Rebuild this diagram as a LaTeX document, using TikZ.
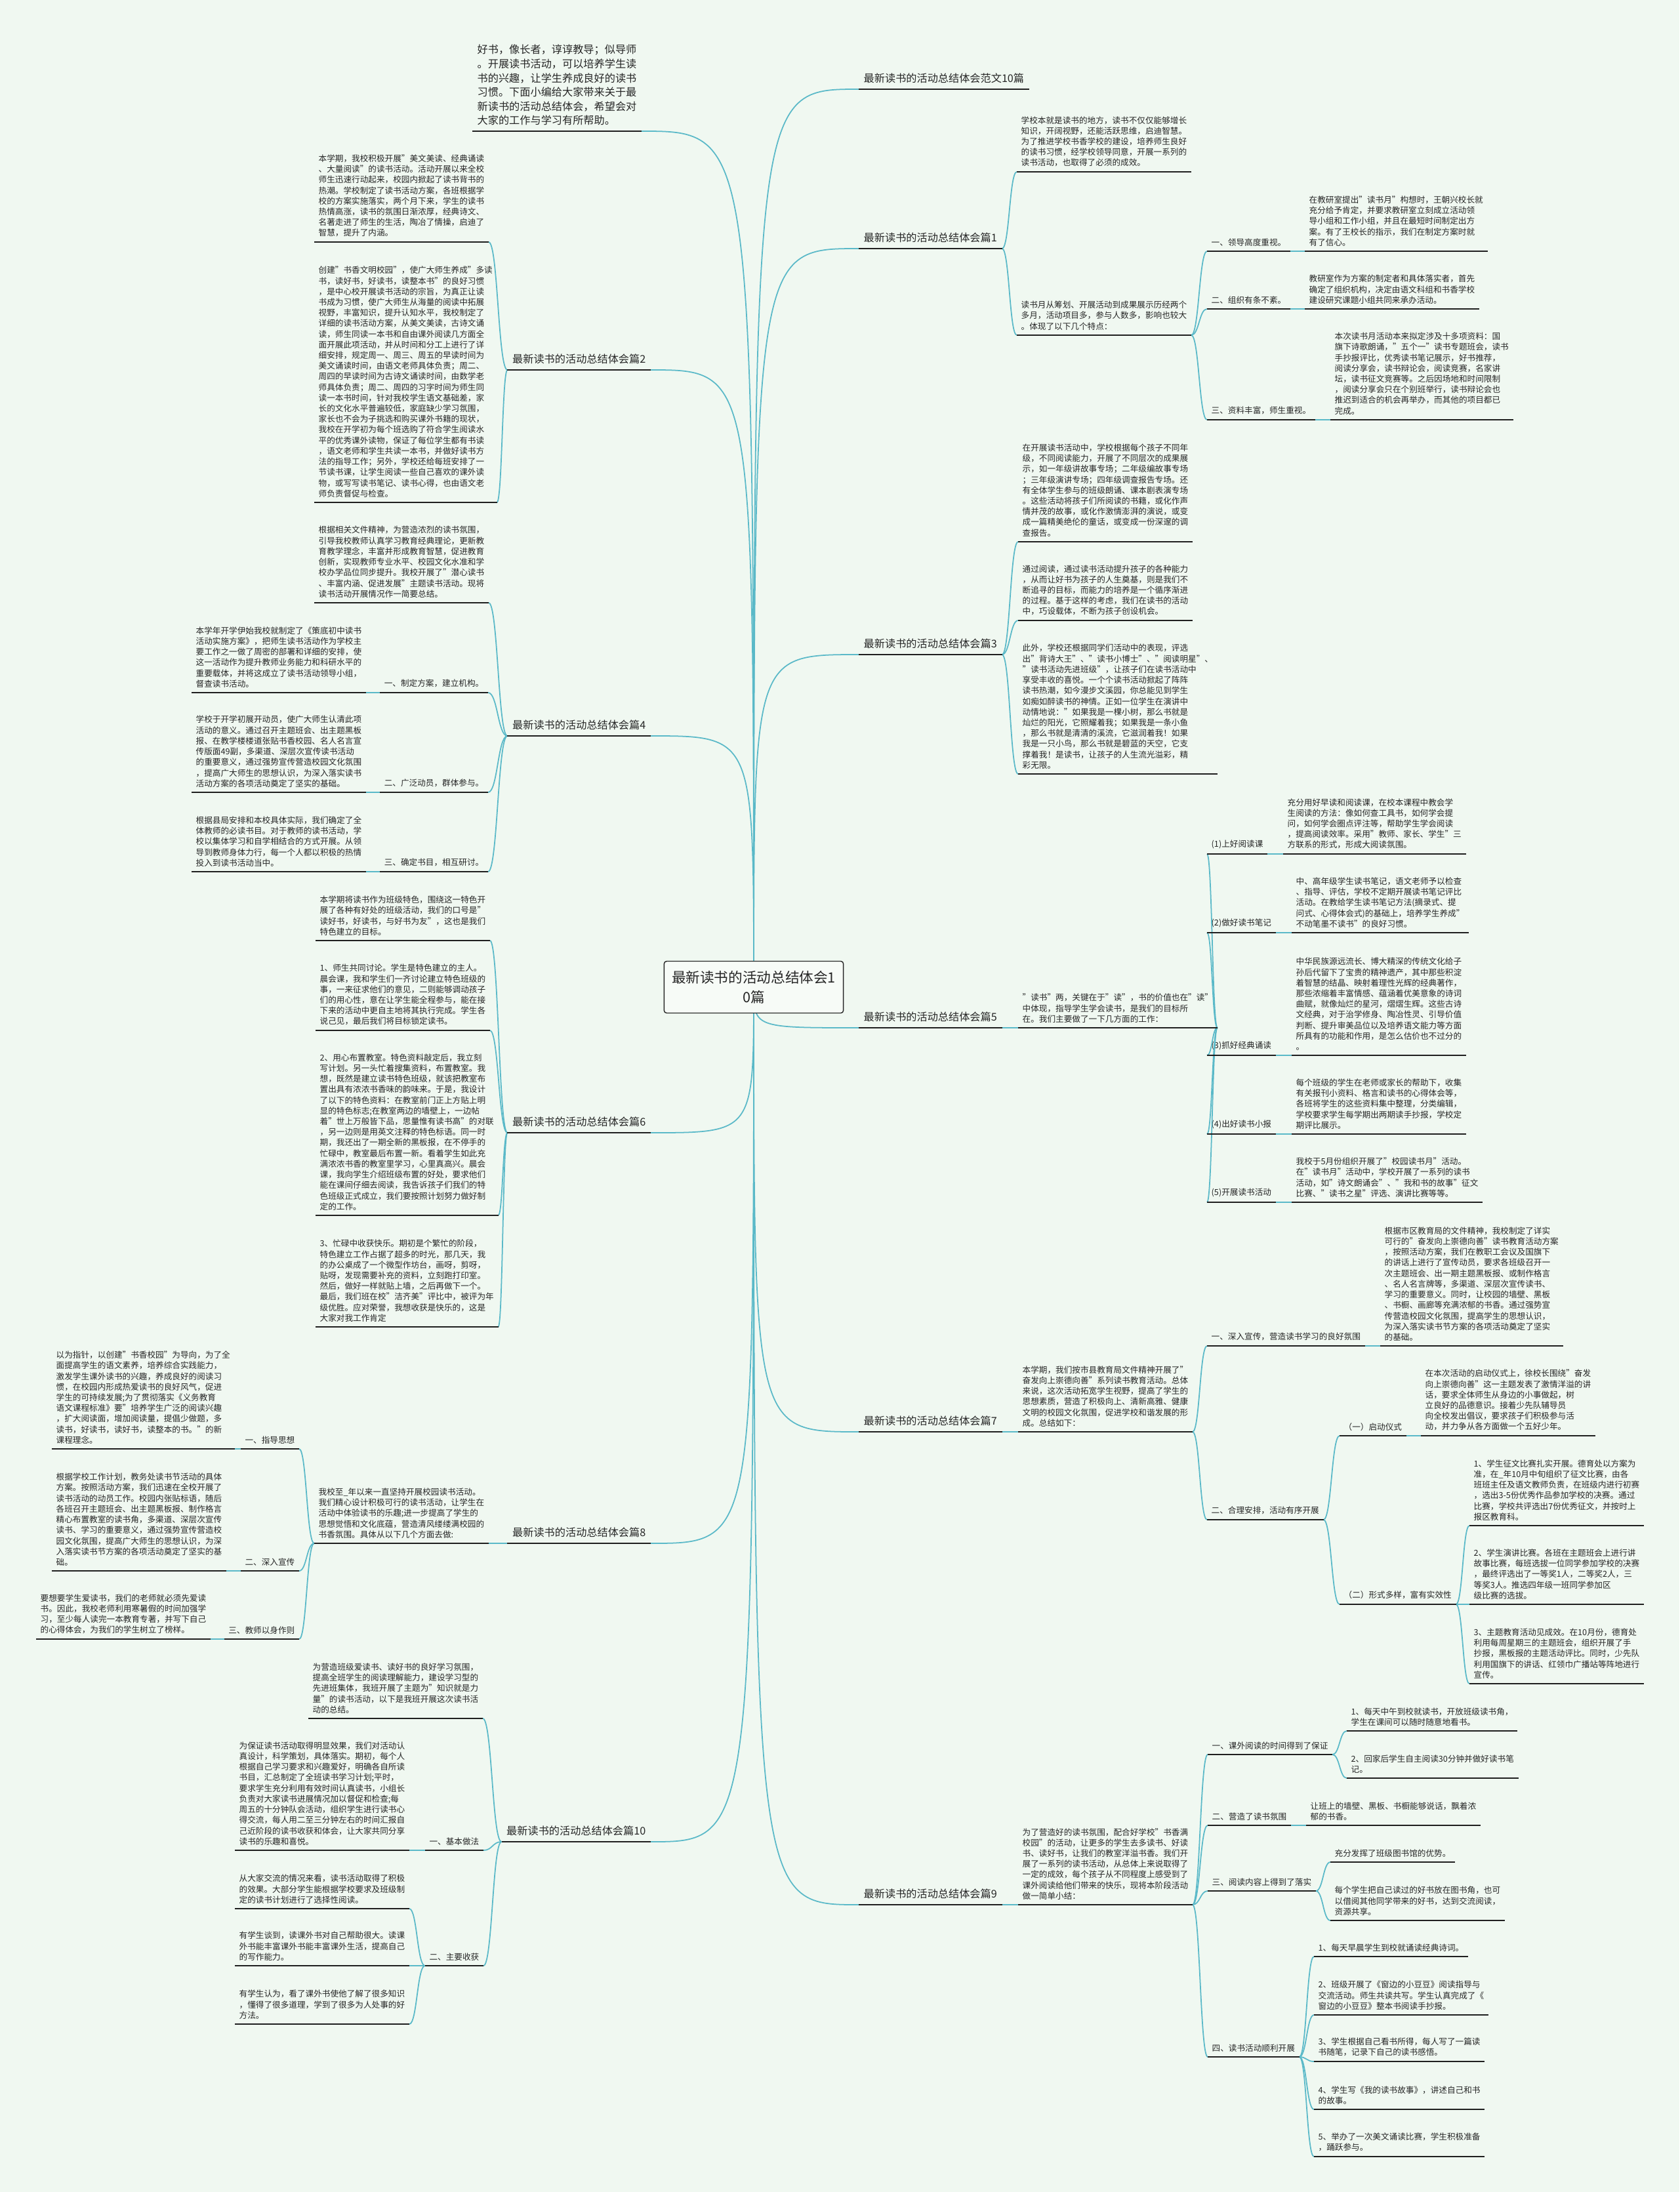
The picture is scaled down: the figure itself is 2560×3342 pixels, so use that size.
\documentclass[tikz,border=0pt]{standalone}
\usepackage{fontspec}
\setmainfont{Noto Sans CJK SC}
\usetikzlibrary{calc}

\definecolor{bgmint}{RGB}{240,248,241}
\definecolor{linkc}{RGB}{90,185,200}
\definecolor{ink}{RGB}{38,38,38}

\newcommand{\fsmall}{\fontsize{3.59pt}{4.61pt}\selectfont}
\newcommand{\flabel}{\fontsize{4.6pt}{6.15pt}\selectfont}
\newcommand{\fcenter}{\fontsize{6.15pt}{8.6pt}\selectfont}

\tikzset{
  txt/.style={font=\fsmall, align=left, inner xsep=0.06cm, inner ysep=0.07cm, text=ink},
  lbl/.style={font=\flabel, align=left, inner xsep=0.07cm, inner ysep=0.08cm, text=ink},
  hub/.style={font=\fcenter, align=center, draw=black!85, line width=0.4pt, rounded corners=0.04cm,
    fill=white!45!bgmint, minimum width=2.73cm, minimum height=0.79cm, text=ink},
  uline/.style={draw=black!88, line width=0.55pt},
  link/.style={draw=linkc, line width=0.5pt}
}

% curved connector between two points, bending at the middle
\newcommand{\lnk}[2]{\draw[link] let \p1=(#1), \p2=(#2) in
  (\p1) .. controls ({0.5*\x1+0.5*\x2},\y1) and ({0.5*\x1+0.5*\x2},\y2) .. (\p2);}
% connector from the centre topic
\newcommand{\hublnk}[1]{\draw[link] (hubc) .. controls (hubc |- #1) .. (#1);}

\begin{document}
\begin{tikzpicture}[x=0.01cm, y=-0.01cm]
\fill[bgmint] (0,0) rectangle (2560,3342);
\useasboundingbox (0,0) rectangle (2560,3342);

\coordinate (hubc) at (1149,1505);

% ---------- left side ----------
\node[lbl, anchor=south west, font=\fontsize{4.6pt}{6.15pt}\selectfont] (intro) at (720,200)
  {好书，像长者，谆谆教导；似导师\\。开展读书活动，可以培养学生读\\书的兴趣，让学生养成良好的读书\\习惯。下面小编给大家带来关于最\\新读书的活动总结体会，希望会对\\大家的工作与学习有所帮助。};

\node[lbl, anchor=south east] (b2) at (992,564) {最新读书的活动总结体会篇2};
\node[txt, anchor=south west] (b2p1) at (479,369)
  {本学期，我校积极开展"美文美读、经典诵读\\、大量阅读"的读书活动。活动开展以来全校\\师生迅速行动起来，校园内掀起了读书背书的\\热潮。学校制定了读书活动方案，各班根据学\\校的方案实施落实，两个月下来，学生的读书\\热情高涨，读书的氛围日渐浓厚，经典诗文、\\名著走进了师生的生活，陶冶了情操，启迪了\\智慧，提升了内涵。};
\node[txt, anchor=south west] (b2p2) at (479,766)
  {创建"书香文明校园"，使广大师生养成"多读\\书，读好书，好读书，读整本书"的良好习惯\\，是中心校开展读书活动的宗旨，为真正让读\\书成为习惯，使广大师生从海量的阅读中拓展\\视野，丰富知识，提升认知水平，我校制定了\\详细的读书活动方案，从美文美读，古诗文诵\\读，师生同读一本书和自由课外阅读几方面全\\面开展此项活动，并从时间和分工上进行了详\\细安排，规定周一、周三、周五的早读时间为\\美文诵读时间，由语文老师具体负责；周二、\\周四的早读时间为古诗文诵读时间，由数学老\\师具体负责；周二、周四的习字时间为师生同\\读一本书时间，针对我校学生语文基础差，家\\长的文化水平普遍较低，家庭缺少学习氛围，\\家长也不会为子挑选和购买课外书籍的现状，\\我校在开学初为每个班选购了符合学生阅读水\\平的优秀课外读物，保证了每位学生都有书读\\，语文老师和学生共读一本书，并做好读书方\\法的指导工作；另外，学校还给每班安排了一\\节读书课，让学生阅读一些自己喜欢的课外读\\物，或写写读书笔记、读书心得，也由语文老\\师负责督促与检查。};

\node[lbl, anchor=south east] (b4) at (992,1122) {最新读书的活动总结体会篇4};
\node[txt, anchor=south west] (b4p0) at (479,919)
  {根据相关文件精神，为营造浓烈的读书氛围，\\引导我校教师认真学习教育经典理论，更新教\\育教学理念，丰富并形成教育智慧，促进教育\\创新，实现教师专业水平、校园文化水准和学\\校办学品位同步提升。我校开展了"潜心读书\\、丰富内涵、促进发展"主题读书活动。现将\\读书活动开展情况作一简要总结。};
\node[txt, anchor=south east] (b4l1) at (744,1056) {一、制定方案，建立机构。};
\node[txt, anchor=south west] (b4t1) at (292,1056)
  {本学年开学伊始我校就制定了《策底初中读书\\活动实施方案》，把师生读书活动作为学校主\\要工作之一做了周密的部署和详细的安排，使\\这一活动作为提升教师业务能力和科研水平的\\重要载体，并将这成立了读书活动领导小组，\\督查读书活动。};
\node[txt, anchor=south east] (b4l2) at (744,1208) {二、广泛动员，群体参与。};
\node[txt, anchor=south west] (b4t2) at (292,1208)
  {学校于开学初展开动员，使广大师生认清此项\\活动的意义。通过召开主题班会、出主题黑板\\报、在教学楼楼道张贴书香校园、名人名言宣\\传版面49副，多渠道、深层次宣传读书活动\\的重要意义，通过强势宣传营造校园文化氛围\\，提高广大师生的思想认识，为深入落实读书\\活动方案的各项活动奠定了坚实的基础。};
\node[txt, anchor=south east] (b4l3) at (744,1329) {三、确定书目，相互研讨。};
\node[txt, anchor=south west] (b4t3) at (292,1329)
  {根据县局安排和本校具体实际，我们确定了全\\体教师的必读书目。对于教师的读书活动，学\\校以集体学习和自学相结合的方式开展。从领\\导到教师身体力行，每一个人都以积极的热情\\投入到读书活动当中。};

\node[lbl, anchor=south east] (b6) at (992,1727) {最新读书的活动总结体会篇6};
\node[txt, anchor=south west] (b6p0) at (481,1434)
  {本学期将读书作为班级特色，围绕这一特色开\\展了各种有好处的班级活动，我们的口号是"\\读好书，好读书，与好书为友"，这也是我们\\特色建立的目标。};
\node[txt, anchor=south west] (b6p1) at (481,1571)
  {1、师生共同讨论。学生是特色建立的主人。\\晨会课，我和学生们一齐讨论建立特色班级的\\事，一来征求他们的意见，二则能够调动孩子\\们的用心性，意在让学生能全程参与，能在接\\下来的活动中更自主地将其执行完成。学生各\\说己见，最后我们将目标锁定读书。};
\node[txt, anchor=south west] (b6p2) at (481,1853)
  {2、用心布置教室。特色资料敲定后，我立刻\\写计划。另一头忙着搜集资料，布置教室。我\\想，既然是建立读书特色班级，就该把教室布\\置出具有浓浓书香味的韵味来。于是，我设计\\了以下的特色资料：在教室前门正上方贴上明\\显的特色标志;在教室两边的墙壁上，一边帖\\着"世上万般皆下品，思量惟有读书高"的对联\\，另一边则是用英文注释的特色标语。同一时\\期，我还出了一期全新的黑板报，在不停手的\\忙碌中，教室最后布置一新。看着学生如此充\\满浓浓书香的教室里学习，心里真高兴。晨会\\课，我向学生介绍班级布置的好处，要求他们\\能在课间仔细去阅读，我告诉孩子们我们的特\\色班级正式成立，我们要按照计划努力做好制\\定的工作。};
\node[txt, anchor=south west] (b6p3) at (481,2023)
  {3、忙碌中收获快乐。期初是个繁忙的阶段，\\特色建立工作占据了超多的时光，那几天，我\\的办公桌成了一个微型作坊台，画呀，剪呀，\\贴呀，发现需要补充的资料，立刻跑打印室。\\然后，做好一样就贴上墙，之后再做下一个。\\最后，我们班在校"洁齐美"评比中，被评为年\\级优胜。应对荣誉，我想收获是快乐的，这是\\大家对我工作肯定};

\node[lbl, anchor=south east] (b8) at (992,2353) {最新读书的活动总结体会篇8};
\node[txt, anchor=south west] (b8p0) at (479,2353)
  {我校至\_年以来一直坚持开展校园读书活动。\\我们精心设计积极可行的读书活动，让学生在\\活动中体验读书的乐趣;进一步提高了学生的\\思想觉悟和文化底蕴，营造清风缕缕满校园的\\书香氛围。具体从以下几个方面去做:};
\node[txt, anchor=south east] (b8l1) at (456,2209) {一、指导思想};
\node[txt, anchor=south west] (b8t1) at (79,2209)
  {以为指针，以创建"书香校园"为导向，为了全\\面提高学生的语文素养，培养综合实践能力，\\激发学生课外读书的兴趣，养成良好的阅读习\\惯，在校园内形成热爱读书的良好风气，促进\\学生的可持续发展;为了贯彻落实《义务教育\\语文课程标准》要"培养学生广泛的阅读兴趣\\，扩大阅读面，增加阅读量，提倡少做题，多\\读书，好读书，读好书，读整本的书。"的新\\课程理念。};
\node[txt, anchor=south east] (b8l2) at (456,2395) {二、深入宣传};
\node[txt, anchor=south west] (b8t2) at (79,2395)
  {根据学校工作计划，教务处读书节活动的具体\\方案。按照活动方案，我们迅速在全校开展了\\读书活动的动员工作。校园内张贴标语，随后\\各班召开主题班会、出主题黑板报、制作格言\\精心布置教室的读书角，多渠道、深层次宣传\\读书、学习的重要意义，通过强势宣传营造校\\园文化氛围，提高广大师生的思想认识，为深\\入落实读书节方案的各项活动奠定了坚实的基\\础。};
\node[txt, anchor=south east] (b8l3) at (456,2499) {三、教师以身作则};
\node[txt, anchor=south west] (b8t3) at (55,2499)
  {要想要学生爱读书，我们的老师就必须先爱读\\书。因此，我校老师利用寒暑假的时间加强学\\习，至少每人读完一本教育专著，并写下自己\\的心得体会，为我们的学生树立了榜样。};

\node[lbl, anchor=south east] (b10) at (992,2808) {最新读书的活动总结体会篇10};
\node[txt, anchor=south west] (b10p0) at (470,2620)
  {为营造班级爱读书、读好书的良好学习氛围，\\提高全班学生的阅读理解能力，建设学习型的\\先进班集体，我班开展了主题为"知识就是力\\量"的读书活动，以下是我班开展这次读书活\\动的总结。};
\node[txt, anchor=south east] (b10l1) at (737,2821) {一、基本做法};
\node[txt, anchor=south west] (b10t1) at (358,2821)
  {为保证读书活动取得明显效果，我们对活动认\\真设计，科学策划，具体落实。期初，每个人\\根据自己学习要求和兴趣爱好，明确各自所读\\书目，汇总制定了全班读书学习计划;平时，\\要求学生充分利用有效时间认真读书，小组长\\负责对大家读书进展情况加以督促和检查;每\\周五的十分钟队会活动，组织学生进行读书心\\得交流，每人用二至三分钟左右的时间汇报自\\己近阶段的读书收获和体会，让大家共同分享\\读书的乐趣和喜悦。};
\node[txt, anchor=south east] (b10l2) at (737,2997) {二、主要收获};
\node[txt, anchor=south west] (b10t2a) at (358,2910)
  {从大家交流的情况来看，读书活动取得了积极\\的效果。大部分学生能根据学校要求及班级制\\定的读书计划进行了选择性阅读。};
\node[txt, anchor=south west] (b10t2b) at (358,2997)
  {有学生谈到，读课外书对自己帮助很大。读课\\外书能丰富课外书能丰富课外生活，提高自己\\的写作能力。};
\node[txt, anchor=south west] (b10t2c) at (358,3086)
  {有学生认为，看了课外书使他了解了很多知识\\，懂得了很多道理，学到了很多为人处事的好\\方法。};

% ---------- right side ----------
\node[lbl, anchor=south west] (fw) at (1309,136) {最新读书的活动总结体会范文10篇};

\node[lbl, anchor=south west] (b1) at (1309,379) {最新读书的活动总结体会篇1};
\node[txt, anchor=south west] (b1p1) at (1550,262)
  {学校本就是读书的地方，读书不仅仅能够增长\\知识，开阔视野，还能活跃思维，启迪智慧。\\为了推进学校书香学校的建设，培养师生良好\\的读书习惯，经学校领导同意，开展一系列的\\读书活动，也取得了必须的成效。};
\node[txt, anchor=south west] (b1p2) at (1550,511)
  {读书月从筹划、开展活动到成果展示历经两个\\多月，活动项目多，参与人数多，影响也较大\\。体现了以下几个特点：};
\node[txt, anchor=south west] (b1l1) at (1840,383) {一、领导高度重视。};
\node[txt, anchor=south west] (b1t1) at (1989,383)
  {在教研室提出"读书月"构想时，王朝兴校长就\\充分给予肯定，并要求教研室立刻成立活动领\\导小组和工作小组，并且在最短时间制定出方\\案。有了王校长的指示，我们在制定方案时就\\有了信心。};
\node[txt, anchor=south west] (b1l2) at (1840,471) {二、组织有条不紊。};
\node[txt, anchor=south west] (b1t2) at (1989,471)
  {教研室作为方案的制定者和具体落实者，首先\\确定了组织机构，决定由语文科组和书香学校\\建设研究课题小组共同来承办活动。};
\node[txt, anchor=south west] (b1l3) at (1840,640) {三、资料丰富，师生重视。};
\node[txt, anchor=south west] (b1t3) at (2028,640)
  {本次读书月活动本来拟定涉及十多项资料：国\\旗下诗歌朗诵，"五个一"读书专题班会，读书\\手抄报评比，优秀读书笔记展示，好书推荐，\\阅读分享会，读书辩论会，阅读竞赛，名家讲\\坛，读书征文竞赛等。之后因场地和时间限制\\，阅读分享会只在个别班举行，读书辩论会也\\推迟到适合的机会再举办，而其他的项目都已\\完成。};

\node[lbl, anchor=south west] (b3) at (1309,998) {最新读书的活动总结体会篇3};
\node[txt, anchor=south west] (b3p1) at (1552,826)
  {在开展读书活动中，学校根据每个孩子不同年\\级，不同阅读能力，开展了不同层次的成果展\\示，如一年级讲故事专场；二年级编故事专场\\；三年级演讲专场；四年级调查报告专场。还\\有全体学生参与的班级朗诵、课本剧表演专场\\。这些活动将孩子们所阅读的书籍，或化作声\\情并茂的故事，或化作激情澎湃的演说，或变\\成一篇精美绝伦的童话，或变成一份深邃的调\\查报告。};
\node[txt, anchor=south west] (b3p2) at (1552,946)
  {通过阅读，通过读书活动提升孩子的各种能力\\，从而让好书为孩子的人生奠基，则是我们不\\断追寻的目标，而能力的培养是一个循序渐进\\的过程。基于这样的考虑，我们在读书的活动\\中，巧设载体，不断为孩子创设机会。};
\node[txt, anchor=south west] (b3p3) at (1552,1180)
  {此外，学校还根据同学们活动中的表现，评选\\出"背诗大王"、"读书小博士"、"阅读明星"、\\"读书活动先进班级"，让孩子们在读书活动中\\享受丰收的喜悦。一个个读书活动掀起了阵阵\\读书热潮，如今漫步文溪园，你总能见到学生\\如痴如醉读书的神情。正如一位学生在演讲中\\动情地说："如果我是一棵小树，那么书就是\\灿烂的阳光，它照耀着我；如果我是一条小鱼\\，那么书就是清清的溪流，它滋润着我！如果\\我是一只小鸟，那么书就是碧蓝的天空，它支\\撑着我！是读书，让孩子的人生流光溢彩，精\\彩无限。};

\node[lbl, anchor=south west] (b5) at (1309,1567) {最新读书的活动总结体会篇5};
\node[txt, anchor=south west] (b5p0) at (1552,1567)
  {"读书"两，关键在于"读"，书的价值也在"读"\\中体现，指导学生学会读书，是我们的目标所\\在。我们主要做了一下几方面的工作：};
\node[txt, anchor=south west] (b5l1) at (1840,1302) {(1)上好阅读课};
\node[txt, anchor=south west] (b5t1) at (1956,1302)
  {充分用好早读和阅读课，在校本课程中教会学\\生阅读的方法：像如何查工具书，如何学会提\\问，如何学会圈点评注等，帮助学生学会阅读\\，提高阅读效率。采用"教师、家长、学生"三\\方联系的形式，形成大阅读氛围。};
\node[txt, anchor=south west] (b5l2) at (1840,1422) {(2)做好读书笔记};
\node[txt, anchor=south west] (b5t2) at (1969,1422)
  {中、高年级学生读书笔记，语文老师予以检查\\、指导、评估，学校不定期开展读书笔记评比\\活动。在教给学生读书笔记方法(摘录式、提\\问式、心得体会式)的基础上，培养学生养成"\\不动笔墨不读书"的良好习惯。};
\node[txt, anchor=south west] (b5l3) at (1840,1609) {(3)抓好经典诵读};
\node[txt, anchor=south west] (b5t3) at (1969,1609)
  {中华民族源远流长、博大精深的传统文化给子\\孙后代留下了宝贵的精神遗产，其中那些积淀\\着智慧的结晶、映射着理性光辉的经典著作，\\那些浓缩着丰富情感、蕴涵着优美意象的诗词\\曲赋，就像灿烂的星河，熠熠生辉。这些古诗\\文经典，对于治学修身、陶冶性灵、引导价值\\判断、提升审美品位以及培养语文能力等方面\\所具有的功能和作用，是怎么估价也不过分的\\。};
\node[txt, anchor=south west] (b5l4) at (1840,1729) {(4)出好读书小报};
\node[txt, anchor=south west] (b5t4) at (1969,1729)
  {每个班级的学生在老师或家长的帮助下，收集\\有关报刊小资料、格言和读书的心得体会等，\\各班将学生的这些资料集中整理，分类编辑，\\学校要求学生每学期出两期读手抄报，学校定\\期评比展示。};
\node[txt, anchor=south west] (b5l5) at (1840,1833) {(5)开展读书活动};
\node[txt, anchor=south west] (b5t5) at (1969,1833)
  {我校于5月份组织开展了"校园读书月"活动。\\在"读书月"活动中，学校开展了一系列的读书\\活动，如"诗文朗诵会"、"我和书的故事"征文\\比赛、"读书之星"评选、演讲比赛等等。};

\node[lbl, anchor=south west] (b7) at (1309,2183) {最新读书的活动总结体会篇7};
\node[txt, anchor=south west] (b7p0) at (1552,2183)
  {本学期，我们按市县教育局文件精神开展了"\\奋发向上崇德向善"系列读书教育活动。总体\\来说，这次活动拓宽学生视野，提高了学生的\\思想素质，营造了积极向上、清新高雅、健康\\文明的校园文化氛围，促进学校和谐发展的形\\成。总结如下：};
\node[txt, anchor=south west] (b7l1) at (1840,2052) {一、深入宣传，营造读书学习的良好氛围};
\node[txt, anchor=south west] (b7t1) at (2104,2052)
  {根据市区教育局的文件精神，我校制定了详实\\可行的"奋发向上崇德向善"读书教育活动方案\\，按照活动方案，我们在教职工会议及国旗下\\的讲话上进行了宣传动员，要求各班级召开一\\次主题班会、出一期主题黑板报、或制作格言\\、名人名言牌等，多渠道、深层次宣传读书、\\学习的重要意义。同时，让校园的墙壁、黑板\\、书橱、画廊等充满浓郁的书香。通过强势宣\\传营造校园文化氛围，提高学生的思想认识，\\为深入落实读书节方案的各项活动奠定了坚实\\的基础。};
\node[txt, anchor=south west] (b7l2) at (1840,2317) {二、合理安排，活动有序开展};
\node[txt, anchor=south west] (b7l21) at (2042,2189) {（一）启动仪式};
\node[txt, anchor=south west] (b7t21) at (2166,2189)
  {在本次活动的启动仪式上，徐校长围绕"奋发\\向上崇德向善"这一主题发表了激情洋溢的讲\\话，要求全体师生从身边的小事做起，树\\立良好的品德意识。接着少先队辅导员\\向全校发出倡议，要求孩子们积极参与活\\动，并力争从各方面做一个五好少年。};
\node[txt, anchor=south west] (b7l22) at (2042,2446) {（二）形式多样，富有实效性};
\node[txt, anchor=south west] (b7t22a) at (2240,2326)
  {1、学生征文比赛扎实开展。德育处以方案为\\准，在\_年10月中旬组织了征文比赛，由各\\班班主任及语文教师负责，在班级内进行初赛\\，选出3-5份优秀作品参加学校的决赛。通过\\比赛，学校共评选出7份优秀征文，并按时上\\报区教育科。};
\node[txt, anchor=south west] (b7t22b) at (2240,2446)
  {2、学生演讲比赛。各班在主题班会上进行讲\\故事比赛，每班选拔一位同学参加学校的决赛\\，最终评选出了一等奖1人，二等奖2人，三\\等奖3人。推选四年级一班同学参加区\\级比赛的选拔。};
\node[txt, anchor=south west] (b7t22c) at (2240,2567)
  {3、主题教育活动见成效。在10月份，德育处\\利用每周星期三的主题班会，组织开展了手\\抄报，黑板报的主题活动评比。同时，少先队\\利用国旗下的讲话、红领巾广播站等阵地进行\\宣传。};

\node[lbl, anchor=south west] (b9) at (1309,2904) {最新读书的活动总结体会篇9};
\node[txt, anchor=south west] (b9p0) at (1552,2904)
  {为了营造好的读书氛围，配合好学校"书香满\\校园"的活动，让更多的学生去多读书、好读\\书、读好书，让我们的教室洋溢书香。我们开\\展了一系列的读书活动，从总体上来说取得了\\一定的成效，每个孩子从不同程度上感受到了\\课外阅读给他们带来的快乐，现将本阶段活动\\做一简单小结：};
\node[txt, anchor=south west] (b9l1) at (1841,2675) {一、课外阅读的时间得到了保证};
\node[txt, anchor=south west] (b9t1a) at (2053,2639)
  {1、每天中午到校就读书，开放班级读书角，\\学生在课间可以随时随意地看书。};
\node[txt, anchor=south west] (b9t1b) at (2053,2711)
  {2、回家后学生自主阅读30分钟并做好读书笔\\记。};
\node[txt, anchor=south west] (b9l2) at (1841,2783) {二、营造了读书氛围};
\node[txt, anchor=south west] (b9t2) at (1991,2783)
  {让班上的墙壁、黑板、书橱能够说话，飘着浓\\郁的书香。};
\node[txt, anchor=south west] (b9l3) at (1841,2883) {三、阅读内容上得到了落实};
\node[txt, anchor=south west] (b9t3a) at (2028,2839) {充分发挥了班级图书馆的优势。};
\node[txt, anchor=south west] (b9t3b) at (2028,2928)
  {每个学生把自己读过的好书放在图书角，也可\\以借阅其他同学带来的好书，达到交流阅读，\\资源共享。};
\node[txt, anchor=south west] (b9l4) at (1841,3136) {四、读书活动顺利开展};
\node[txt, anchor=south west] (b9t4a) at (2003,2983) {1、每天早晨学生到校就诵读经典诗词。};
\node[txt, anchor=south west] (b9t4b) at (2003,3072)
  {2、班级开展了《窗边的小豆豆》阅读指导与\\交流活动。师生共读共写。学生认真完成了《\\窗边的小豆豆》整本书阅读手抄报。};
\node[txt, anchor=south west] (b9t4c) at (2003,3143)
  {3、学生根据自己看书所得，每人写了一篇读\\书随笔，记录下自己的读书感悟。};
\node[txt, anchor=south west] (b9t4d) at (2003,3216)
  {4、学生写《我的读书故事》，讲述自己和书\\的故事。};
\node[txt, anchor=south west] (b9t4e) at (2003,3288)
  {5、举办了一次美文诵读比赛，学生积极准备\\，踊跃参与。};

% ---------- connectors ----------
\foreach \nm in {intro,b2,b4,b6,b8,b10} {\hublnk{\nm.south east}}
\foreach \nm in {fw,b1,b3,b5,b7,b9} {\hublnk{\nm.south west}}

\foreach \pnode/\cnode in {b2/b2p1, b2/b2p2, b4/b4p0, b4/b4l1, b4/b4l2, b4/b4l3,
  b4l1/b4t1, b4l2/b4t2, b4l3/b4t3, b6/b6p0, b6/b6p1, b6/b6p2, b6/b6p3,
  b8/b8p0, b8p0/b8l1, b8p0/b8l2, b8p0/b8l3, b8l1/b8t1, b8l2/b8t2, b8l3/b8t3,
  b10/b10p0, b10/b10l1, b10/b10l2, b10l1/b10t1, b10l2/b10t2a, b10l2/b10t2b, b10l2/b10t2c}
  {\lnk{\pnode.south west}{\cnode.south east}}

\foreach \pnode/\cnode in {b1/b1p1, b1/b1p2, b1p2/b1l1, b1p2/b1l2, b1p2/b1l3,
  b1l1/b1t1, b1l2/b1t2, b1l3/b1t3, b3/b3p1, b3/b3p2, b3/b3p3,
  b5/b5p0, b5p0/b5l1, b5p0/b5l2, b5p0/b5l3, b5p0/b5l4, b5p0/b5l5,
  b5l1/b5t1, b5l2/b5t2, b5l3/b5t3, b5l4/b5t4, b5l5/b5t5,
  b7/b7p0, b7p0/b7l1, b7p0/b7l2, b7l1/b7t1, b7l2/b7l21, b7l2/b7l22, b7l21/b7t21,
  b7l22/b7t22a, b7l22/b7t22b, b7l22/b7t22c,
  b9/b9p0, b9p0/b9l1, b9p0/b9l2, b9p0/b9l3, b9p0/b9l4, b9l1/b9t1a, b9l1/b9t1b,
  b9l2/b9t2, b9l3/b9t3a, b9l3/b9t3b, b9l4/b9t4a, b9l4/b9t4b, b9l4/b9t4c, b9l4/b9t4d, b9l4/b9t4e}
  {\lnk{\pnode.south east}{\cnode.south west}}

% underlines
\foreach \nm in {intro,b2,b2p1,b2p2,b4,b4p0,b4l1,b4t1,b4l2,b4t2,b4l3,b4t3,
  b6,b6p0,b6p1,b6p2,b6p3,b8,b8p0,b8l1,b8t1,b8l2,b8t2,b8l3,b8t3,
  b10,b10p0,b10l1,b10t1,b10l2,b10t2a,b10t2b,b10t2c,
  fw,b1,b1p1,b1p2,b1l1,b1t1,b1l2,b1t2,b1l3,b1t3,b3,b3p1,b3p2,b3p3,
  b5,b5p0,b5l1,b5t1,b5l2,b5t2,b5l3,b5t3,b5l4,b5t4,b5l5,b5t5,
  b7,b7p0,b7l1,b7t1,b7l2,b7l21,b7t21,b7l22,b7t22a,b7t22b,b7t22c,
  b9,b9p0,b9l1,b9t1a,b9t1b,b9l2,b9t2,b9l3,b9t3a,b9t3b,b9l4,b9t4a,b9t4b,b9t4c,b9t4d,b9t4e}
  {\draw[uline] (\nm.south west) -- (\nm.south east);}

% centre topic on top of the connectors
\node[hub] (c) at (1149,1505) {最新读书的活动总结体会1\\0篇};
\end{tikzpicture}
\end{document}
